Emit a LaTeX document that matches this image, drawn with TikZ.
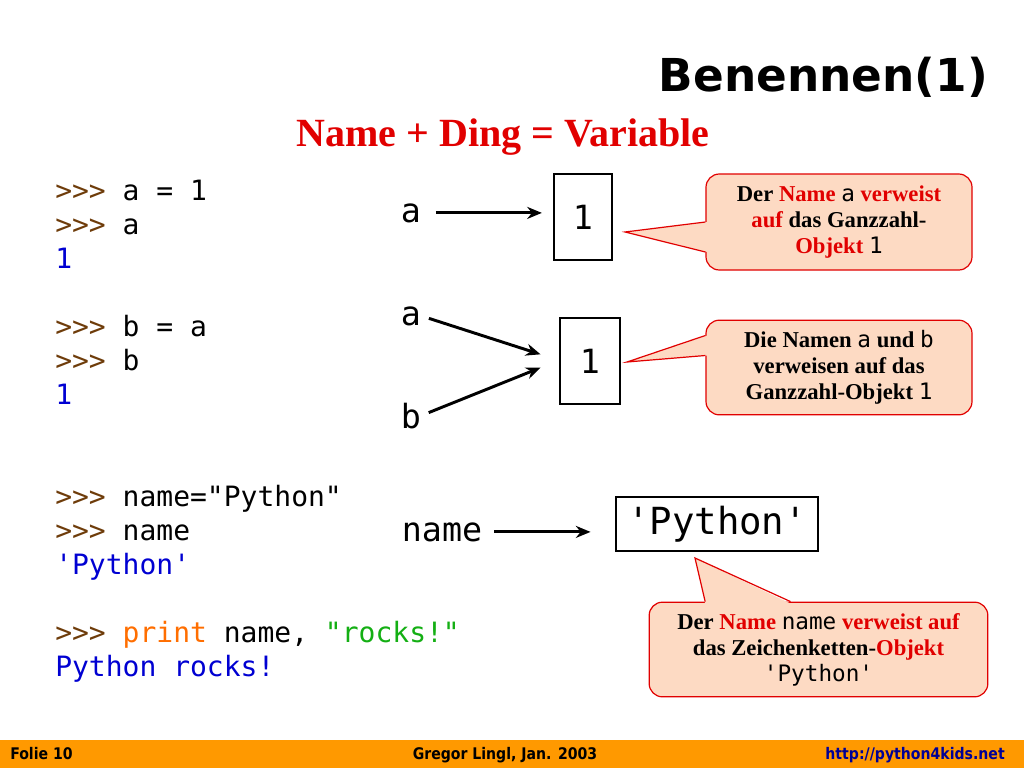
\documentclass[tikz,border=0pt]{standalone}
\usepackage{fontspec}
\setmainfont{Liberation Serif}
\newfontfamily\codefont{DejaVu Sans Mono}
\newfontfamily\headfont{DejaVu Sans}
\newfontfamily\footfont{DejaVu Sans}[FakeStretch=0.88]
\usetikzlibrary{arrows.meta,positioning}

\definecolor{promptcol}{RGB}{110,60,10}
\definecolor{outcol}{RGB}{0,0,210}
\definecolor{printcol}{RGB}{255,110,0}
\definecolor{strcol}{RGB}{20,175,20}
\definecolor{callred}{RGB}{225,0,0}
\definecolor{callfill}{RGB}{253,218,195}
\definecolor{footbar}{RGB}{255,153,0}
\definecolor{urlcol}{RGB}{0,0,150}

\newcommand{\pr}{\textcolor{promptcol}{>>>} }
\newcommand{\out}[1]{\textcolor{outcol}{#1}}
\newcommand{\hl}[1]{\textcolor{callred}{#1}}
\newcommand{\cd}[1]{{\codefont\mdseries #1}}

\tikzset{
  codeline/.style={anchor=base west, inner sep=0pt, font=\codefont\fontsize{21}{25}\selectfont},
  var/.style={anchor=base, inner sep=0pt, font=\codefont\fontsize{25}{30}\selectfont},
  obj/.style={draw, line width=2.2pt, inner sep=0pt, font=\codefont\fontsize{25}{30}\selectfont},
  bubble/.style={draw=callred, fill=callfill, line width=0.9pt, rounded corners=10pt,
    align=center, inner sep=0pt, font=\bfseries\fontsize{17}{19.5}\selectfont},
  ref/.style={-{Stealth[length=11pt,width=9pt]}, line width=2.2pt, shorten <=6pt, shorten >=8pt},
  foot/.style={inner sep=0pt, font=\footfont\bfseries\fontsize{12}{14}\selectfont}
}

\begin{document}
\begin{tikzpicture}[x=0.75pt, y=-0.75pt]
  \useasboundingbox (0,0) rectangle (1024,768);
  \fill[white] (0,0) rectangle (1024,768);

  \node[anchor=base east, inner sep=0pt, font=\headfont\bfseries\fontsize{34}{40}\selectfont] (title) at (988,91) {Benennen(1)};
  \node[anchor=base, inner sep=0pt, text=callred, font=\bfseries\fontsize{30}{36}\selectfont] (subtitle) at (503,146) {Name + Ding = Variable};

  \foreach \k/\txt in {0/{\pr a = 1}, 1/{\pr a}, 2/{\out{1}},
                       4/{\pr b = a}, 5/{\pr b}, 6/{\out{1}},
                       9/{\pr name="Python"}, 10/{\pr name}, 11/{\out{'Python'}},
                       13/{\pr \textcolor{printcol}{print} name, \textcolor{strcol}{"rocks!"}},
                       14/{\out{Python rocks!}}}
    \node[codeline] (code\k) at (55,200+34*\k) {\txt};

  \node[var] (va) at (411,222) {a};
  \node[obj, minimum width=43.5pt, minimum height=64.5pt] (one) at (583,217) {1};
  \path[ref, shorten <=11pt] (va.east) edge (va.east -| one.west);

  \node[var] (va2) at (411,325) {a};
  \node[var] (vb2) at (411,428) {b};
  \node[obj, minimum width=45pt, minimum height=64.5pt] (one2) at (590,361) {1};
  \coordinate (in2) at ([xshift=-13.5pt]one2.west);
  \path[ref, shorten >=0pt] (va2.east) edge ([yshift=5pt]in2)
                            (vb2.east) edge ([yshift=-5pt]in2);

  \node[var] (vname) at (442,541) {name};
  \node[obj, minimum width=151.5pt, minimum height=40.5pt, font=\codefont\fontsize{28}{32}\selectfont] (pyobj) at (717,524) {'Python'};
  \path[ref, shorten <=9pt, shorten >=18pt] (vname.east) edge (vname.east -| pyobj.west);

  \node[bubble, minimum width=199.5pt, minimum height=72pt] (note1) at (839,222)
    {Der \hl{Name} \cd{a} \hl{verweist}\\ \hl{auf} das Ganzzahl-\\ \hl{Objekt} \cd{1}};
  \coordinate (tip1) at (625,232);
  \fill[callfill] (tip1) -- ([xshift=1.5pt]note1.west) -- ([xshift=1.5pt,yshift=-22.5pt]note1.west) -- cycle;
  \draw[callred, line width=0.9pt] (note1.west) -- (tip1) -- ([yshift=-22.5pt]note1.west);

  \node[bubble, minimum width=199.5pt, minimum height=71pt] (note2) at (839,367.5)
    {Die Namen \cd{a} und \cd{b}\\ verweisen auf das\\ Ganzzahl-Objekt \cd{1}};
  \coordinate (tip2) at (627,362);
  \fill[callfill] (tip2) -- ([xshift=1.5pt,yshift=24pt]note2.west) -- ([xshift=1.5pt,yshift=9pt]note2.west) -- cycle;
  \draw[callred, line width=0.9pt] ([yshift=24pt]note2.west) -- (tip2) -- ([yshift=9pt]note2.west);

  \node[bubble, minimum width=254pt, minimum height=71pt] (note3) at (818.5,649.5)
    {Der \hl{Name} \cd{name} \hl{verweist auf}\\ das Zeichenketten-\hl{Objekt}\\ \cd{'Python'}};
  \coordinate (tip3) at (695,558);
  \fill[callfill] (tip3) -- ([xshift=-85pt,yshift=-1.5pt]note3.north) -- ([xshift=-21pt,yshift=-1.5pt]note3.north) -- cycle;
  \draw[callred, line width=0.9pt] ([xshift=-85pt]note3.north) -- (tip3) -- ([xshift=-21pt]note3.north);

  \fill[footbar] (0,740) rectangle (1024,768);
  \node[foot, anchor=base west] (folie) at (10,759) {Folie 10};
  \node[foot, anchor=base] (autor) at (505,759) {Gregor Lingl, Jan. 2003};
  \node[foot, anchor=base east, text=urlcol] (url) at (1005,759) {http://python4kids.net};
\end{tikzpicture}
\end{document}
